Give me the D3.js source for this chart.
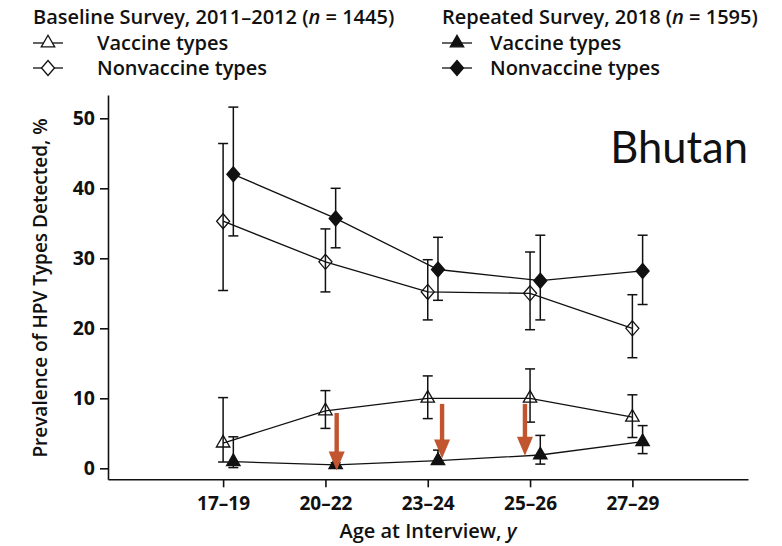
<!DOCTYPE html>
<html>
<head>
<meta charset="utf-8">
<script src="https://cdn.jsdelivr.net/npm/d3@7"></script>
<style>
  body { margin: 0; background: #fff; }
  svg { display: block; }
  text { font-family: "Open Sans", sans-serif; fill: #111; }
</style>
</head>
<body>
<script>
// DATA
const AGES = ['17–19', '20–22', '23–24', '25–26', '27–29'];
const Y_TICKS = [0, 10, 20, 30, 40, 50];

// baseline survey 2011-2012 (open markers)
const BASE_VACC = [3.6, 8.2, 10.0, 10.0, 7.3];
const BASE_VACC_LO = [0.9, 5.7, 7.1, 6.6, 4.4];
const BASE_VACC_HI = [10.1, 11.1, 13.2, 14.2, 10.5];
const BASE_NONVACC = [35.3, 29.5, 25.2, 25.0, 20.0];
const BASE_NONVACC_LO = [25.4, 25.2, 21.2, 19.8, 15.8];
const BASE_NONVACC_HI = [46.4, 34.2, 29.8, 30.9, 24.8];

// repeated survey 2018 (filled markers)
const REP_VACC = [0.95, 0.5, 1.1, 1.9, 3.8];
const REP_VACC_LO = [0.1, 0.2, 0.8, 0.6, 2.1];
const REP_VACC_HI = [4.5, 0.8, 2.6, 4.7, 6.1];
const REP_NONVACC = [42.0, 35.7, 28.4, 26.8, 28.2];
const REP_NONVACC_LO = [33.2, 31.5, 24.0, 21.2, 23.4];
const REP_NONVACC_HI = [51.6, 40.0, 33.0, 33.3, 33.3];

// arrows: position on the age axis (index units), from and to value
const ARROW_AT = [1.11, 2.14, 2.95];
const ARROW_FROM = [7.9, 9.2, 9.2];
const ARROW_TO = [-0.3, 1.4, 1.8];

const COUNTRY = 'Bhutan';

// CONSTANTS
const WIDTH = 782, HEIGHT = 546;
const SHIFT = 0.1;          // repeated survey drawn a bit right of the tick
const CAP = 5;
const ARROW_COLOR = '#c0552f';
const LEGEND_LINE = 30;

const svg = d3.select('body').append('svg')
  .attr('width', WIDTH)
  .attr('height', HEIGHT);

const X_SCALE = d3.scaleLinear().domain([-1.125, 5.13]).range([108, 748]);
const Y_SCALE = d3.scaleLinear().domain([-1.57, 53.33]).range([479.3, 95]);

// marker shapes
const diamond = 'M0,-7.5L6.5,0L0,7.5L-6.5,0Z';
const triangle = d3.symbol().type(d3.symbolTriangle).size(78)();

// AXES
const xAxis = svg.append('g')
  .attr('transform', 'translate(0,' + Y_SCALE(-1.57) + ')')
  .call(d3.axisBottom(X_SCALE)
    .tickValues(d3.range(AGES.length))
    .tickFormat((d) => AGES[d])
    .tickSize(8).tickSizeOuter(0).tickPadding(6));
xAxis.selectAll('text')
  .style('font-size', '19px').style('font-weight', 700)
  .attr('dy', '0.9em');

const yAxis = svg.append('g')
  .attr('transform', 'translate(' + X_SCALE(-1.125) + ',0)')
  .call(d3.axisLeft(Y_SCALE)
    .tickValues(Y_TICKS)
    .tickSize(8).tickSizeOuter(0).tickPadding(5));
yAxis.selectAll('text')
  .style('font-size', '19.5px').style('font-weight', 700);

svg.selectAll('.domain, .tick line')
  .attr('stroke', '#111').attr('stroke-width', 1.6);

// axis titles
const xt = svg.append('text')
  .attr('x', 428).attr('y', 538)
  .attr('text-anchor', 'middle')
  .style('font-size', '20px').style('font-weight', 600);
xt.append('tspan').text('Age at Interview, ');
xt.append('tspan').style('font-style', 'italic').text('y');

svg.append('text')
  .attr('transform', 'translate(47,' + 288 + ') rotate(-90)')
  .attr('text-anchor', 'middle')
  .style('font-size', '19px').style('font-weight', 600)
  .text('Prevalence of HPV Types Detected, %');

// country label
svg.append('text')
  .attr('x', 748).attr('y', 163)
  .attr('text-anchor', 'end')
  .style('font-family', 'Lato, sans-serif')
  .style('font-size', '43.5px')
  .text(COUNTRY);

// SERIES
const SERIES = [
  {vals: BASE_NONVACC, lo: BASE_NONVACC_LO, hi: BASE_NONVACC_HI, shift: 0, shape: diamond, filled: false},
  {vals: REP_NONVACC, lo: REP_NONVACC_LO, hi: REP_NONVACC_HI, shift: SHIFT, shape: diamond, filled: true},
  {vals: BASE_VACC, lo: BASE_VACC_LO, hi: BASE_VACC_HI, shift: 0, shape: triangle, filled: false},
  {vals: REP_VACC, lo: REP_VACC_LO, hi: REP_VACC_HI, shift: SHIFT, shape: triangle, filled: true}
];

const line = d3.line();

SERIES.forEach(function(s) {
  const g = svg.append('g');
  const pts = s.vals.map((v, i) => [X_SCALE(i + s.shift), Y_SCALE(v)]);

  // error bars
  const eb = g.selectAll('.eb').data(s.vals).enter().append('g')
    .attr('stroke', '#111').attr('stroke-width', 1.5).attr('fill', 'none');
  eb.append('line')
    .attr('x1', (d, i) => X_SCALE(i + s.shift)).attr('x2', (d, i) => X_SCALE(i + s.shift))
    .attr('y1', (d, i) => Y_SCALE(s.lo[i])).attr('y2', (d, i) => Y_SCALE(s.hi[i]));
  eb.append('line')
    .attr('x1', (d, i) => X_SCALE(i + s.shift) - CAP).attr('x2', (d, i) => X_SCALE(i + s.shift) + CAP)
    .attr('y1', (d, i) => Y_SCALE(s.lo[i])).attr('y2', (d, i) => Y_SCALE(s.lo[i]));
  eb.append('line')
    .attr('x1', (d, i) => X_SCALE(i + s.shift) - CAP).attr('x2', (d, i) => X_SCALE(i + s.shift) + CAP)
    .attr('y1', (d, i) => Y_SCALE(s.hi[i])).attr('y2', (d, i) => Y_SCALE(s.hi[i]));

  g.append('path')
    .attr('d', line(pts))
    .attr('fill', 'none').attr('stroke', '#111').attr('stroke-width', 1.3);

  g.selectAll('.pt').data(pts).enter().append('path')
    .attr('transform', (d) => 'translate(' + d[0] + ',' + d[1] + ')')
    .attr('d', s.shape)
    .attr('fill', s.filled ? '#111' : 'none')
    .attr('stroke', '#111').attr('stroke-width', 1.3);
});

// ARROWS
const arrows = svg.selectAll('.arrow').data(ARROW_AT).enter().append('g')
  .attr('fill', ARROW_COLOR);
arrows.append('rect')
  .attr('x', (d) => X_SCALE(d) - 2.2).attr('width', 4.4)
  .attr('y', (d, i) => Y_SCALE(ARROW_FROM[i]))
  .attr('height', (d, i) => Y_SCALE(ARROW_TO[i]) - Y_SCALE(ARROW_FROM[i]) - 17);
arrows.append('path')
  .attr('d', function(d, i) {
    const x = X_SCALE(d), yt = Y_SCALE(ARROW_TO[i]);
    return 'M' + (x - 8) + ',' + (yt - 19) + 'L' + (x + 8) + ',' + (yt - 19) + 'L' + x + ',' + yt + 'Z';
  });

// LEGEND
const LEGEND = [
  {title: 'Baseline Survey, 2011–2012 (', n: '1445', x: 33, textX: 64, filled: false},
  {title: 'Repeated Survey, 2018 (', n: '1595', x: 442, textX: 48, filled: true}
];
LEGEND.forEach(function(l) {
  const g = svg.append('g').attr('transform', 'translate(' + l.x + ',0)');
  const t = g.append('text').attr('y', 24)
    .style('font-size', '20px').style('font-weight', 600);
  t.append('tspan').text(l.title);
  t.append('tspan').style('font-style', 'italic').text('n');
  t.append('tspan').text(' = ' + l.n + ')');

  [['Vaccine types', triangle, 43], ['Nonvaccine types', diamond, 68]].forEach(function(r) {
    g.append('line')
      .attr('x1', 0).attr('x2', LEGEND_LINE).attr('y1', r[2]).attr('y2', r[2])
      .attr('stroke', '#111').attr('stroke-width', 1.3);
    g.append('path')
      .attr('transform', 'translate(' + LEGEND_LINE / 2 + ',' + r[2] + ')')
      .attr('d', r[1])
      .attr('fill', l.filled ? '#111' : '#fff')
      .attr('stroke', '#111').attr('stroke-width', 1.3);
    g.append('text')
      .attr('x', l.textX).attr('y', r[2] + 7)
      .style('font-size', '20px').style('font-weight', 600)
      .text(r[0]);
  });
});
</script>
</body>
</html>
